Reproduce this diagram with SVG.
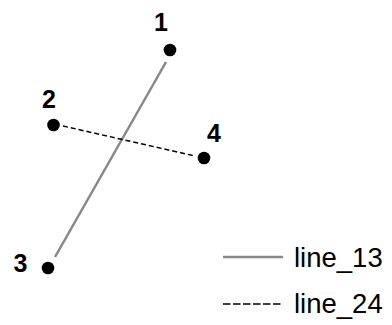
<svg xmlns="http://www.w3.org/2000/svg" width="392" height="325" viewBox="0 0 392 325">
<style>
.dot{fill:#000}
.lbl{font-family:"Liberation Sans",Arial,sans-serif;font-weight:bold;font-size:25px;fill:#000;text-anchor:middle}
.leg{font-family:"Liberation Sans",Arial,sans-serif;font-size:27.5px;fill:#000}
.solid{stroke:#888;stroke-width:2.5;fill:none}
.dash{stroke:#000;stroke-width:1.5;stroke-dasharray:5 3;fill:none}
.dashleg{stroke:#000;stroke-width:1.5;stroke-dasharray:7.5 2.5;fill:none}
</style>
<rect width="392" height="325" fill="#fff"/>
<g id="connectors">
<line class="solid" x1="166" y1="62" x2="55" y2="257"/>
<line class="dash" x1="63" y1="126" x2="195" y2="156"/>
</g>
<g id="node1"><circle class="dot" cx="170" cy="50" r="6.3"/><text class="lbl" x="161" y="31">1</text></g>
<g id="node2"><circle class="dot" cx="53.5" cy="125" r="6.3"/><text class="lbl" x="49" y="108">2</text></g>
<g id="node4"><circle class="dot" cx="204" cy="158" r="6.3"/><text class="lbl" x="214" y="142">4</text></g>
<g id="node3"><circle class="dot" cx="48" cy="268" r="6.3"/><text class="lbl" x="20.5" y="272">3</text></g>
<g id="legend">
<line class="solid" x1="223" y1="257" x2="283" y2="257"/>
<text class="leg" x="294" y="267">line_13</text>
<line class="dashleg" x1="223" y1="304" x2="283" y2="304"/>
<text class="leg" x="294" y="313">line_24</text>
</g>
</svg>
